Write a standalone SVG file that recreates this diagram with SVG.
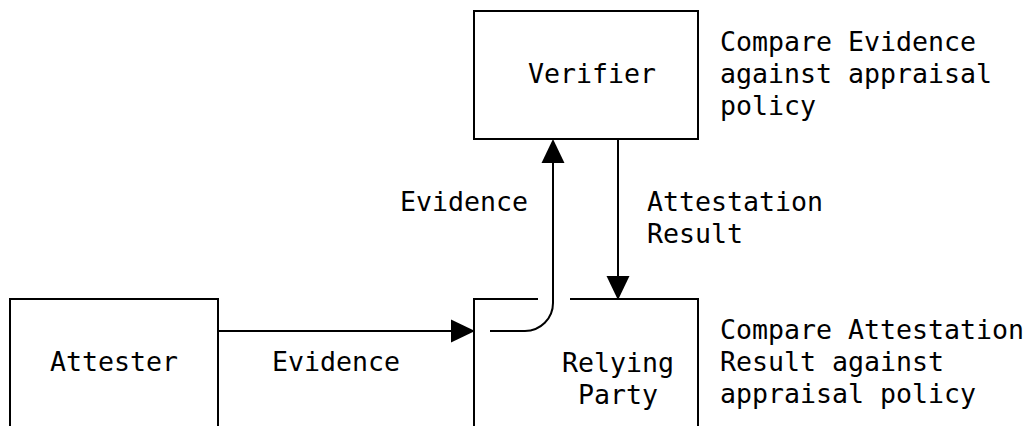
<svg xmlns="http://www.w3.org/2000/svg" width="1027" height="426" viewBox="0 0 1027 426">
  <style>
    .box { fill: none; stroke: #000; stroke-width: 2; }
    .conn { fill: none; stroke: #000; stroke-width: 2; }
    text { font-family: "DejaVu Sans Mono", "Liberation Mono", monospace; font-size: 26.58px; fill: #000; }
  </style>
  <defs>
    <marker id="arrow" markerUnits="userSpaceOnUse" markerWidth="24" markerHeight="24" viewBox="0 0 23 22" refX="0" refY="11" orient="auto">
      <path d="M0,0 L23,11 L0,22 Z" fill="#000"/>
    </marker>
  </defs>
  <rect width="1027" height="426" fill="#fff"/>

  <g id="verifier">
    <rect class="box" x="474" y="11" width="224" height="128"/>
    <text x="528" y="83">Verifier</text>
  </g>

  <g id="verifier-note">
    <text x="720" y="51">Compare Evidence</text>
    <text x="720" y="83">against appraisal</text>
    <text x="720" y="115">policy</text>
  </g>

  <g id="attester">
    <path class="box" d="M10,430 V299 H218 V430"/>
    <text x="114" y="371" text-anchor="middle">Attester</text>
  </g>

  <g id="relying-party">
    <path class="box" d="M538,299 H474 V430 M570,299 H698 V430"/>
    <text x="618" y="372" text-anchor="middle">Relying</text>
    <text x="618" y="404" text-anchor="middle">Party</text>
  </g>

  <g id="relying-party-note">
    <text x="720" y="339">Compare Attestation</text>
    <text x="720" y="371">Result against</text>
    <text x="720" y="403">appraisal policy</text>
  </g>

  <g id="connectors">
    <line class="conn" x1="218" y1="331" x2="451" y2="331" marker-end="url(#arrow)"/>
    <text x="272" y="371">Evidence</text>
    <path class="conn" d="M490,331 H525 A28,28 0 0 0 553,303 V163" marker-end="url(#arrow)"/>
    <text x="400" y="211">Evidence</text>
    <line class="conn" x1="618" y1="139" x2="618" y2="276" marker-end="url(#arrow)"/>
    <text x="647" y="211">Attestation</text>
    <text x="647" y="243">Result</text>
  </g>
</svg>
